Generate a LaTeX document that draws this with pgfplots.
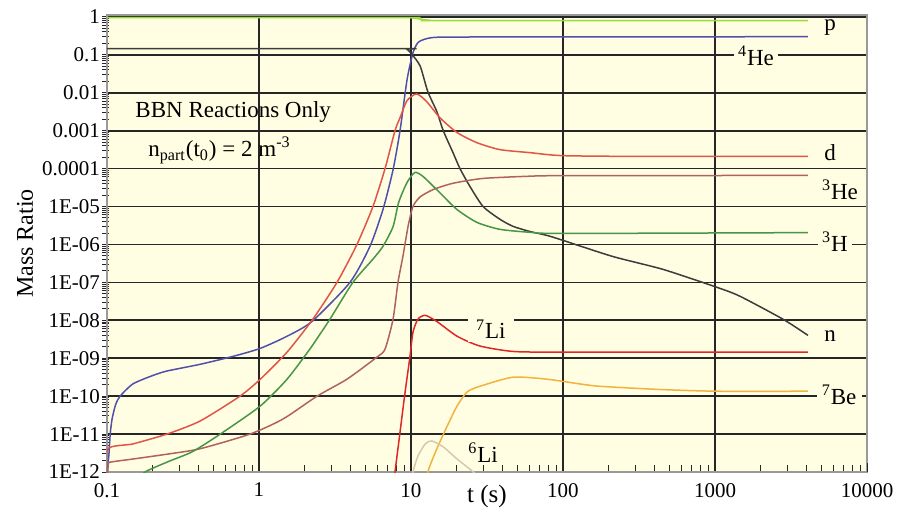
\documentclass[border=0pt]{standalone}
\usepackage{pgfplots}
\pgfplotsset{compat=1.18}
\usepackage{fontspec}
\setmainfont{Liberation Serif}

\definecolor{bgyel}{RGB}{255,254,226}
\definecolor{cp}{RGB}{150,222,60}
\definecolor{che}{RGB}{80,80,170}
\definecolor{cn}{RGB}{60,60,60}
\definecolor{cd}{RGB}{226,84,72}
\definecolor{chethree}{RGB}{176,98,92}
\definecolor{ch}{RGB}{70,150,70}
\definecolor{cli}{RGB}{222,40,40}
\definecolor{cbe}{RGB}{242,178,62}
\definecolor{clisix}{RGB}{215,202,172}

\begin{document}
\begin{tikzpicture}
\path[use as bounding box] (-53.5pt,-19pt) rectangle (402pt,236pt);
\begin{axis}[
  at={(0,0)}, anchor=south west,
  scale only axis, width=380pt, height=228.5pt,
  xmode=log, ymode=log,
  xmin=0.1, xmax=10000, ymin=1e-12, ymax=1.12,
  xtick={0.1,1,10,100,1000},
  xticklabels={0.1,1,10,100,1000},
  extra x ticks={10000}, extra x tick labels={10000},
  extra x tick style={grid=none},
  minor xtick={0.2,0.3,0.4,0.5,0.6,0.7,0.8,0.9,2,3,4,5,6,7,8,9,
    20,30,40,50,60,70,80,90,200,300,400,500,600,700,800,900,
    2000,3000,4000,5000,6000,7000,8000,9000},
  ytick={1e-12,1e-11,1e-10,1e-9,1e-8,1e-7,1e-6,1e-5,1e-4,1e-3,1e-2,1e-1,1},
  yticklabels={1E-12,1E-11,1E-10,1E-09,1E-08,1E-07,1E-06,1E-05,0.0001,0.001,0.01,0.1,1},
  minor ytick={2e-12,3e-12,4e-12,5e-12,6e-12,7e-12,8e-12,9e-12,
    2e-11,3e-11,4e-11,5e-11,6e-11,7e-11,8e-11,9e-11,
    2e-10,3e-10,4e-10,5e-10,6e-10,7e-10,8e-10,9e-10,
    2e-9,3e-9,4e-9,5e-9,6e-9,7e-9,8e-9,9e-9,
    2e-8,3e-8,4e-8,5e-8,6e-8,7e-8,8e-8,9e-8,
    2e-7,3e-7,4e-7,5e-7,6e-7,7e-7,8e-7,9e-7,
    2e-6,3e-6,4e-6,5e-6,6e-6,7e-6,8e-6,9e-6,
    2e-5,3e-5,4e-5,5e-5,6e-5,7e-5,8e-5,9e-5,
    2e-4,3e-4,4e-4,5e-4,6e-4,7e-4,8e-4,9e-4,
    2e-3,3e-3,4e-3,5e-3,6e-3,7e-3,8e-3,9e-3,
    2e-2,3e-2,4e-2,5e-2,6e-2,7e-2,8e-2,9e-2,
    0.2,0.3,0.4,0.5,0.6,0.7,0.8,0.9},
  xtick pos=left, ytick pos=left,
  tick align=inside,
  major tick length=4.5pt, minor tick length=3.5pt,
  y tick style={xshift=-2.25pt},
  every tick/.style={black!85, line width=0.5pt},
  grid=major,
  major grid style={black!85, line width=0.85pt},
  axis line style={black!40, line width=0.6pt},
  axis background/.style={fill=bgyel},
  tick label style={font=\fontsize{10.5}{12}\selectfont},
  xticklabel style={yshift=-2pt},
  xlabel={t (s)}, ylabel={Mass Ratio},
  every axis x label/.style={at={(axis description cs:0.5,-0.0284)}, anchor=north, inner sep=0pt, font=\fontsize{12.5}{14}\selectfont},
  every axis y label/.style={at={(axis description cs:-0.1079,0.5)}, rotate=90, anchor=center, inner sep=0pt, font=\fontsize{12}{14}\selectfont},
  every axis plot/.append style={line width=0.75pt, smooth, tension=0.4},
]

% p
\addplot[cp] coordinates {(0.1,0.96) (9,0.96) (10,0.94) (11,0.9) (12,0.85) (13.5,0.81) (16,0.80) (4090,0.80)};
% 4He
\addplot[che] coordinates {(0.1,5e-13) (0.1005,1e-12) (0.103,3e-12) (0.105,1e-11) (0.108,2.5e-11) (0.114,6e-11) (0.122,1e-10) (0.148,2.1e-10) (0.2,3.5e-10) (0.248,4.6e-10) (0.409,6.9e-10) (0.675,1.12e-9) (1.02,1.82e-9) (1.53,3.8e-9) (2.23,9.3e-9) (3.97,1e-7) (5.37,8.9e-7) (6.54,8.3e-6) (7.62,9.3e-5) (8.47,1e-3) (9.42,0.022) (10.3,0.112) (11.1,0.209) (12.4,0.26) (14.8,0.29) (30,0.295) (4090,0.30)};
% n
\addplot[cn] coordinates {(0.1,0.145) (8.5,0.145) (9.4,0.14) (10.2,0.1) (11.5,0.05) (12.9,0.0107) (14.8,3.16e-3) (16.3,1e-3) (18.9,2.63e-4) (21.0,1e-4) (24.4,3.4e-5) (29.8,1e-5) (38.5,4.6e-6) (46.9,3.0e-6) (60.7,2.19e-6) (78.5,1.73e-6) (100,1.28e-6) (213,4.8e-7) (455,2.2e-7) (1030,7.4e-8) (1460,4.3e-8) (2800,1.07e-8) (4090,4e-9)};
% d
\addplot[cd] coordinates {(0.1,5e-13) (0.101,4e-12) (0.148,5.5e-12) (0.248,1e-11) (0.409,2.2e-11) (0.75,1e-10) (1.02,2.8e-10) (1.53,1.45e-9) (2.26,1.07e-8) (3.26,1e-7) (4.41,1e-6) (5.62,1e-5) (6.75,1e-4) (7.85,1e-3) (8.47,2.19e-3) (9.42,6.2e-3) (10.9,9.3e-3) (12.7,5.8e-3) (15.5,2.19e-3) (20.1,8.9e-4) (27.2,4.8e-4) (38.5,3.16e-4) (60.7,2.63e-4) (100,2.19e-4) (357,2.09e-4) (4090,2.09e-4)};
% 3He
\addplot[chethree] coordinates {(0.1,5e-13) (0.102,1.6e-12) (0.105,1.82e-12) (0.148,2.2e-12) (0.248,2.95e-12) (0.409,4.1e-12) (0.873,1e-11) (1.44,2.5e-11) (2.41,1e-10) (3.79,2.8e-10) (5.97,1.07e-9) (6.75,1.74e-9) (7.62,1.07e-8) (8.21,1e-7) (8.86,5e-7) (9.56,2.95e-6) (10.3,1e-5) (11.5,1.8e-5) (14.0,2.8e-5) (18.9,4.1e-5) (29.8,5.5e-5) (60.7,6.3e-5) (100,6.5e-5) (4090,6.6e-5)};
% 3H
\addplot[ch] coordinates {(0.15,5e-13) (0.178,1e-12) (0.248,1.82e-12) (0.368,3.5e-12) (0.58,1.12e-11) (1.02,5.5e-11) (1.53,2.8e-10) (2.16,1.74e-9) (2.52,4.3e-9) (2.93,1.07e-8) (4.15,1e-7) (5.62,4.1e-7) (6.54,8.9e-7) (7.62,2.95e-6) (8.3,1.29e-5) (9.42,4.3e-5) (10.6,7.9e-5) (12.0,6.2e-5) (15.5,2.3e-5) (20.1,8.3e-6) (27.2,3.8e-6) (38.5,2.5e-6) (60.7,2.09e-6) (100,1.95e-6) (4090,2.05e-6)};
% 7Li
\addplot[cli] coordinates {(7.6,3e-13) (7.85,1e-12) (8.47,1.12e-11) (9.14,1.26e-10) (9.85,1.12e-9) (10.3,4.8e-9) (11.1,1.07e-8) (12.4,1.35e-8) (14.8,9.3e-9) (20.1,3.8e-9) (28.4,2.1e-9) (46.9,1.51e-9) (100,1.45e-9) (4090,1.45e-9)};
% 7Be
\addplot[cbe] coordinates {(12.5,3e-13) (12.9,1e-12) (14.8,4.1e-12) (17.3,1.62e-11) (20.1,5.5e-11) (23.4,1.29e-10) (28.4,1.82e-10) (46.9,3.16e-10) (78.5,2.8e-10) (129,2.1e-10) (175,1.82e-10) (415,1.51e-10) (1016,1.35e-10) (4090,1.35e-10)};
% 6Li
\addplot[clisix] coordinates {(10.1,5e-13) (10.3,1e-12) (11.1,2.6e-12) (12.4,5.5e-12) (13.7,6.6e-12) (16.3,4.6e-12) (20.1,2.2e-12) (25.2,1.07e-12) (28,7e-13)};

% labels
\begin{scope}[every node/.style={fill=bgyel, inner sep=1pt, font=\fontsize{11.5}{13}\selectfont}]
\node at (axis cs:5710,0.51) {p};
\node[inner xsep=2.2pt] at (axis cs:1860,0.094) {\textsuperscript{4}He};
\node at (axis cs:5710,2.6e-4) {d};
\node at (axis cs:6640,2.8e-5) {\textsuperscript{3}He};
\node[inner xsep=2.2pt] at (axis cs:6150,1.2e-6) {\textsuperscript{3}H};
\node at (axis cs:5710,3.8e-9) {n};
\node[inner xsep=2.6pt] at (axis cs:6550,1.07e-10) {\textsuperscript{7}Be};
\node[inner xsep=4pt, inner ysep=1.8pt] at (axis cs:33.5,5.8e-9) {\textsuperscript{7}Li};
\node at (axis cs:29.8,3.2e-12) {\textsuperscript{6}Li};
\end{scope}
\node[anchor=base west, inner sep=0pt, font=\fontsize{11.5}{13}\selectfont] at (axis cs:0.153,2.19e-3) {BBN Reactions Only};
\node[anchor=base west, inner sep=0pt, font=\fontsize{11.5}{13}\selectfont] at (axis cs:0.186,2.09e-4) {n\textsubscript{part}(t\textsubscript{0}) = 2 m\textsuperscript{-3}};
\end{axis}
\end{tikzpicture}
\end{document}
